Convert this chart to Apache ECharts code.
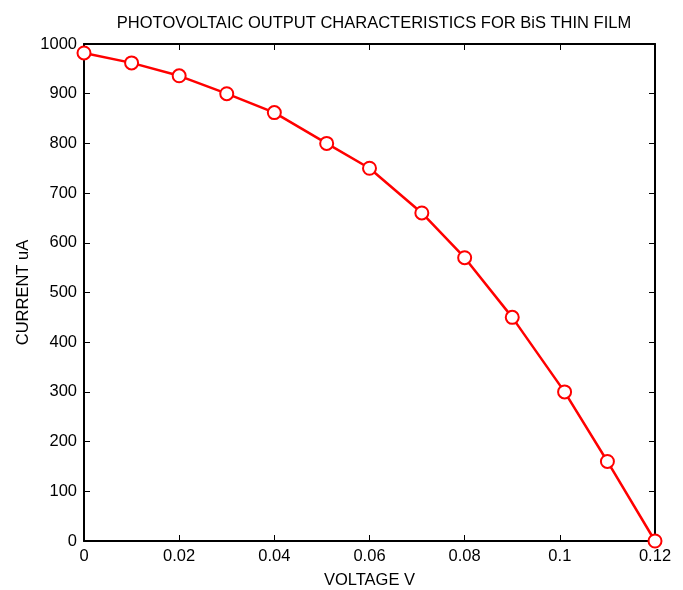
<!DOCTYPE html>
<html>
<head>
<meta charset="utf-8">
<script src="https://cdn.jsdelivr.net/npm/echarts@6/dist/echarts.min.js"></script>
<style>
  html, body { margin: 0; padding: 0; background: #fff; }
  #chart { width: 683px; height: 590px; }
</style>
</head>
<body>
<div id="chart"></div>
<script>
// voltage (V) and current (uA)
var voltage = [0, 0.01, 0.02, 0.03, 0.04, 0.051, 0.06, 0.071, 0.08, 0.09, 0.101, 0.11, 0.12];
var current = [982, 962, 936, 900, 862, 800, 750, 660, 570, 450, 300, 160, 0];

var points = voltage.map(function (v, i) { return [v, current[i]]; });

var font = 'Liberation Sans, Arial, sans-serif';
var tickStyle = { show: true, inside: true, length: 6, lineStyle: { color: '#000', width: 1 } };
var lineStyle = { show: true, onZero: false, lineStyle: { color: '#000', width: 2 } };

var chart = echarts.init(document.getElementById('chart'));
chart.setOption({
  animation: false,
  backgroundColor: '#fff',
  title: {
    text: 'PHOTOVOLTAIC OUTPUT CHARACTERISTICS FOR BiS THIN FILM',
    left: 369, top: 10, textAlign: 'center',
    textStyle: { fontFamily: font, fontSize: 16.5, fontWeight: 'normal', color: '#000' }
  },
  grid: { left: 84, right: 28, top: 44, bottom: 49, outerBoundsMode: 'none', containLabel: false },
  xAxis: [{
    type: 'value', min: 0, max: 0.12, interval: 0.02,
    name: 'VOLTAGE V', nameLocation: 'middle', nameGap: 31,
    nameTextStyle: { fontFamily: font, fontSize: 16.5, color: '#000' },
    axisLine: lineStyle, axisTick: tickStyle, splitLine: { show: false },
    axisLabel: { fontFamily: font, fontSize: 16.5, color: '#000', margin: 7 }
  }, {
    type: 'value', position: 'top', min: 0, max: 0.12, interval: 0.02,
    axisLine: lineStyle, axisTick: tickStyle, splitLine: { show: false },
    axisLabel: { show: false }
  }],
  yAxis: [{
    type: 'value', min: 0, max: 1000, interval: 100,
    name: 'CURRENT uA', nameLocation: 'middle', nameGap: 52, nameMoveOverlap: false,
    nameTextStyle: { fontFamily: font, fontSize: 16.5, color: '#000' },
    axisLine: lineStyle, axisTick: tickStyle, splitLine: { show: false },
    axisLabel: { fontFamily: font, fontSize: 16.5, color: '#000', margin: 7,
      formatter: function (v) { return String(v); } }
  }, {
    type: 'value', position: 'right', min: 0, max: 1000, interval: 100,
    axisLine: lineStyle, axisTick: tickStyle, splitLine: { show: false },
    axisLabel: { show: false }
  }],
  series: [{
    type: 'line',
    data: points,
    clip: false,
    symbol: 'emptyCircle',
    symbolSize: 13,
    lineStyle: { color: '#ff0000', width: 2.5 },
    itemStyle: { color: '#ff0000', borderColor: '#ff0000', borderWidth: 2.2 }
  }]
});
</script>
</body>
</html>
